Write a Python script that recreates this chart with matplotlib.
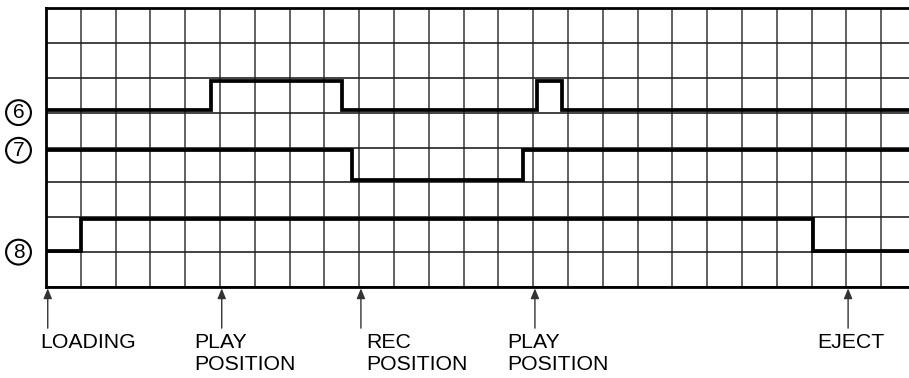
#!/usr/bin/env python3

import numpy as np
import matplotlib.pyplot as plt

# time axis in grid divisions, levels in grid divisions (0 = bottom line)
sig6_t = [0.0, 4.74, 4.74, 8.50, 8.50, 14.10, 14.10, 14.83, 14.83, 24.8]
sig6_v = [5.07, 5.07, 5.92, 5.92, 5.07, 5.07, 5.92, 5.92, 5.07, 5.07]

sig7_t = [0.0, 8.79, 8.79, 13.70, 13.70, 24.8]
sig7_v = [3.93, 3.93, 3.06, 3.06, 3.93, 3.93]

sig8_t = [0.0, 1.0, 1.0, 22.03, 22.03, 24.8]
sig8_v = [1.03, 1.03, 1.95, 1.95, 1.03, 1.03]

channels = ['6', '7', '8']
channel_y = [5.0, 3.92, 1.0]

event_x = [0, 5, 9, 14, 23]
event_labels = ['LOADING', 'PLAY\nPOSITION', 'REC\nPOSITION', 'PLAY\nPOSITION', 'EJECT']
label_dx = [-0.17, -0.75, 0.2, -0.75, -0.83]

if __name__ == '__main__':
    plt.rcParams['font.family'] = ['Liberation Sans', 'DejaVu Sans']

    fig = plt.figure(figsize=(9.09, 3.78), dpi=100)
    ax = fig.add_axes([46 / 909, 91 / 378, 1 - 46 / 909, 279 / 378])
    ax.set_xlim(0, 24.8)
    ax.set_ylim(0, 8)

    for x in range(0, 25):
        ax.axvline(x, color='#555555', lw=1.3, zorder=1)
    for y in range(0, 9):
        ax.axhline(y, color='#222222', lw=1.2, zorder=1)

    ax.set_xticks([])
    ax.set_yticks([])
    for side in ['right']:
        ax.spines[side].set_visible(False)
    for side in ['top', 'left', 'bottom']:
        ax.spines[side].set_linewidth(2.0)
        ax.spines[side].set_color('black')

    for t, v in [(sig6_t, sig6_v), (sig7_t, sig7_v), (sig8_t, sig8_v)]:
        ax.plot(t, v, color='black', lw=2.7, solid_joinstyle='miter', zorder=3)

    for name, y in zip(channels, channel_y):
        ax.text(-0.79, y, name, fontsize=15, ha='center', va='center',
                clip_on=False,
                bbox=dict(boxstyle='circle,pad=0.14', fc='white', ec='black', lw=1.5))

    for x, lab, dx in zip(event_x, event_labels, label_dx):
        ax.annotate('', xy=(x + 0.05, 0.0), xytext=(x + 0.05, -1.18),
                    xycoords='data', textcoords='data', annotation_clip=False,
                    arrowprops=dict(arrowstyle='-|>,head_length=0.6,head_width=0.25',
                                    color='#333333', lw=1.0, shrinkA=0, shrinkB=1))
        for i, line in enumerate(lab.split('\n')):
            ax.text(x + dx, -1.6 - 0.61 * i, line, fontsize=15.3, ha='left', va='center',
                    clip_on=False)

    fig.savefig('out.png', dpi=100)
